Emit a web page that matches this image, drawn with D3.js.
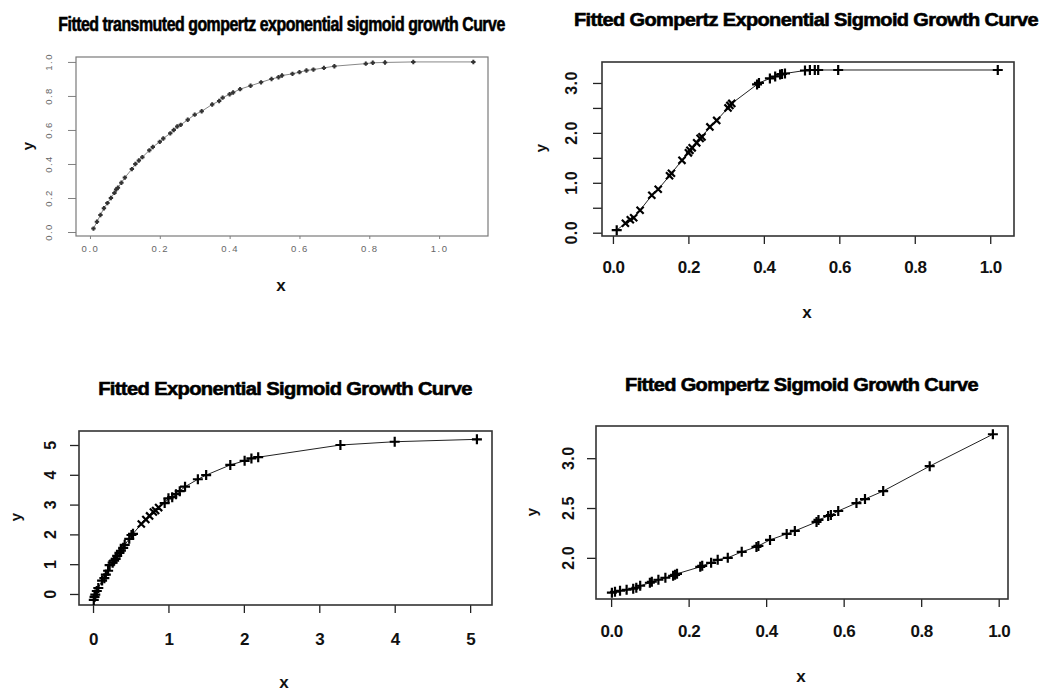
<!DOCTYPE html>
<html><head><meta charset="utf-8">
<script src="https://cdn.jsdelivr.net/npm/d3@7"></script>
<style>
html,body{margin:0;padding:0;background:#fff;}
svg{display:block;}
</style></head>
<body>
<script>
// ---------- DATA ----------
const titles = [
  "Fitted transmuted gompertz exponential sigmoid growth Curve",
  "Fitted Gompertz Exponential Sigmoid Growth Curve",
  "Fitted Exponential Sigmoid Growth Curve",
  "Fitted Gompertz Sigmoid Growth Curve"
];
// Panel 1: transmuted gompertz exponential
const tgeX = [0.01,0.02,0.03,0.04,0.05,0.06,0.07,0.075,0.08,0.09,0.10,0.12,0.13,0.14,0.15,0.17,0.18,0.20,0.21,0.23,0.24,0.25,0.26,0.28,0.30,0.32,0.35,0.37,0.38,0.40,0.41,0.43,0.46,0.49,0.52,0.54,0.55,0.58,0.60,0.62,0.64,0.67,0.70,0.79,0.81,0.845,0.926,1.098];
const tgeY = [0.02,0.06,0.10,0.14,0.17,0.20,0.23,0.25,0.26,0.29,0.32,0.37,0.40,0.42,0.44,0.48,0.50,0.53,0.55,0.58,0.60,0.62,0.63,0.66,0.69,0.71,0.75,0.77,0.79,0.81,0.82,0.84,0.86,0.88,0.90,0.91,0.92,0.93,0.94,0.95,0.955,0.965,0.975,0.99,0.995,0.997,1.0,1.0];
// Panel 2: gompertz exponential
const geX = [0.01,0.033,0.046,0.055,0.072,0.103,0.12,0.15,0.155,0.183,0.20,0.204,0.21,0.222,0.231,0.236,0.257,0.275,0.305,0.31,0.315,0.382,0.387,0.416,0.43,0.443,0.448,0.456,0.509,0.522,0.535,0.544,0.597,1.02];
const geY = [0.05,0.19,0.26,0.30,0.45,0.75,0.87,1.14,1.19,1.45,1.60,1.65,1.70,1.80,1.89,1.92,2.12,2.25,2.50,2.55,2.59,2.97,3.00,3.09,3.13,3.17,3.18,3.19,3.25,3.26,3.26,3.26,3.26,3.26];
// Panel 3: exponential
const esX = [0.01,0.02,0.03,0.05,0.07,0.12,0.15,0.17,0.20,0.22,0.26,0.28,0.30,0.32,0.35,0.37,0.40,0.42,0.48,0.51,0.53,0.64,0.70,0.75,0.80,0.83,0.87,0.95,1.00,1.05,1.10,1.15,1.22,1.39,1.50,1.82,2.01,2.10,2.19,3.28,4.00,5.09];
const esY = [-0.2,-0.1,-0.02,0.1,0.2,0.45,0.53,0.65,0.78,0.97,1.05,1.12,1.18,1.28,1.38,1.45,1.55,1.65,1.85,1.98,2.02,2.35,2.5,2.62,2.75,2.8,2.9,3.05,3.21,3.25,3.35,3.45,3.6,3.85,3.99,4.33,4.47,4.55,4.59,5.0,5.11,5.19];
// Panel 4: gompertz
const gsX = [0.002,0.01,0.023,0.04,0.057,0.065,0.075,0.10,0.105,0.122,0.14,0.16,0.165,0.17,0.23,0.235,0.258,0.275,0.301,0.337,0.375,0.38,0.41,0.453,0.474,0.53,0.535,0.56,0.567,0.586,0.633,0.655,0.702,0.822,0.985];
const gsY = [1.65,1.66,1.67,1.68,1.69,1.70,1.72,1.75,1.76,1.78,1.80,1.82,1.83,1.84,1.91,1.92,1.95,1.98,2.00,2.06,2.11,2.12,2.18,2.24,2.27,2.36,2.38,2.42,2.43,2.47,2.55,2.59,2.67,2.92,3.24];

// ticks
const p1XTicks = [0,0.2,0.4,0.6,0.8,1.0], p1XLabels = ["0.0","0.2","0.4","0.6","0.8","1.0"];
const p1YTicks = [0,0.2,0.4,0.6,0.8,1.0], p1YLabels = ["0.0","0.2","0.4","0.6","0.8","1.0"];
const p2XTicks = [0,0.2,0.4,0.6,0.8,1.0], p2XLabels = ["0.0","0.2","0.4","0.6","0.8","1.0"];
const p2YTicks = [0,0.5,1,1.5,2,2.5,3], p2YLabels = ["0.0","","1.0","","2.0","","3.0"];
const p3XTicks = [0,1,2,3,4,5], p3XLabels = ["0","1","2","3","4","5"];
const p3YTicks = [0,1,2,3,4,5], p3YLabels = ["0","1","2","3","4","5"];
const p4XTicks = [0,0.2,0.4,0.6,0.8,1.0], p4XLabels = ["0.0","0.2","0.4","0.6","0.8","1.0"];
const p4YTicks = [2.0,2.5,3.0], p4YLabels = ["2.0","2.5","3.0"];
const xLabel = "x", yLabel = "y";

// ---------- LAYOUT ----------
const W = 1050, H = 693;
const svg = d3.select("body").append("svg").attr("width", W).attr("height", H);
svg.append("rect").attr("width", W).attr("height", H).attr("fill", "#fff");

const titleFont = "'Liberation Sans','Arial',sans-serif";
const tickFont = "'Liberation Sans',Arial,sans-serif";

const panels = [
  {title: titles[0], xs: tgeX, ys: tgeY, box: [76,57,488,236], xd: [-0.04,1.14], yd: [-0.0235,1.029],
   xt: p1XTicks, xl: p1XLabels, yt: p1YTicks, yl: p1YLabels,
   tcx: 281.5, tby: 31, tw: 447, tfs: 20,
   faint: true, ylx: 48, xlabPos: [281, 291], ylabPos: [27, 146],
   cross: () => false},
  {title: titles[1], xs: geX, ys: geY, box: [602,62,1014,236], xd: [-0.029,1.063], yd: [-0.066,3.42],
   xt: p2XTicks, xl: p2XLabels, yt: p2YTicks, yl: p2YLabels,
   tcx: 806, tby: 26, tw: 464, tfs: 19,
   faint: false, ylx: 571, xoff: 17, xlabPos: [807, 318], ylabPos: [540, 148],
   cross: x => x > 0.02 && x < 0.37},
  {title: titles[2], xs: esX, ys: esY, box: [79,431,492,605], xd: [-0.186,5.29], yd: [-0.37,5.47],
   xt: p3XTicks, xl: p3XLabels, yt: p3YTicks, yl: p3YLabels,
   tcx: 285, tby: 395, tw: 374, tfs: 19,
   faint: false, ylx: 50, xoff: 20, xlabPos: [284, 688], ylabPos: [15, 517],
   cross: x => x > 0.6 && x < 0.9},
  {title: titles[3], xs: gsX, ys: gsY, box: [596,426,1008,599], xd: [-0.039,1.024], yd: [1.587,3.323],
   xt: p4XTicks, xl: p4XLabels, yt: p4YTicks, yl: p4YLabels,
   tcx: 801.5, tby: 391, tw: 353, tfs: 19,
   faint: false, ylx: 568, xoff: 18, xlabPos: [801, 682], ylabPos: [531, 512],
   cross: () => false}
];

panels.forEach(p => {
  const [L, T, R, B] = p.box;
  const x = d3.scaleLinear().domain(p.xd).range([L, R]);
  const y = d3.scaleLinear().domain(p.yd).range([B, T]);
  const g = svg.append("g");
  const lineCol = p.faint ? "#808080" : "#222";
  const labCol = p.faint ? "#666" : "#111";

  // title: natural glyphs, squeezed horizontally to the reference width
  const t = g.append("text").attr("x", 0).attr("y", 0)
    .attr("text-anchor", "middle")
    .attr("font-family", titleFont).attr("font-weight", "bold")
    .attr("font-size", p.tfs).attr("fill", "#000")
    .attr("stroke", "#000").attr("stroke-width", 0.6)
    .attr("letter-spacing", -0.6)
    .text(p.title);
  const natural = t.node().getComputedTextLength();
  t.attr("transform", `translate(${p.tcx},${p.tby}) scale(${p.tw / natural},1)`);

  // x axis
  const xa = d3.axisBottom(x).tickValues(p.xt)
    .tickFormat((d, i) => p.xl[i])
    .tickSizeInner(p.faint ? 3 : 8).tickSizeOuter(0)
    .tickPadding(p.faint ? 6 : p.xoff);
  const gx = g.append("g").attr("transform", `translate(0,${B})`).call(xa);
  gx.select(".domain").remove();
  gx.selectAll(".tick line").attr("stroke", lineCol).attr("stroke-width", p.faint ? 1 : 1.3);
  gx.selectAll(".tick text")
    .attr("fill", labCol)
    .attr("font-family", tickFont)
    .attr("font-weight", p.faint ? "normal" : "bold")
    .attr("font-size", p.faint ? 9.5 : 17)
    .attr("letter-spacing", p.faint ? 1.5 : -0.5);

  // y axis (ticks via d3, labels rotated)
  const ya = d3.axisLeft(y).tickValues(p.yt).tickFormat("")
    .tickSizeInner(p.faint ? 8 : 9).tickSizeOuter(0);
  const gy = g.append("g").attr("transform", `translate(${L},0)`).call(ya);
  gy.select(".domain").remove();
  gy.selectAll(".tick line").attr("stroke", lineCol).attr("stroke-width", p.faint ? 1 : 1.3);
  g.selectAll(null).data(p.yt).enter().append("text")
    .attr("transform", d => `translate(${p.ylx},${y(d)}) rotate(-90)`)
    .attr("text-anchor", "middle").attr("dominant-baseline", "central")
    .attr("fill", labCol)
    .attr("font-family", tickFont)
    .attr("font-weight", p.faint ? "normal" : "bold")
    .attr("font-size", p.faint ? 9.5 : 16)
    .attr("letter-spacing", p.faint ? 1.5 : 0.5)
    .text((d, i) => p.yl[i]);

  // box
  g.append("rect").attr("x", L).attr("y", T).attr("width", R - L).attr("height", B - T)
    .attr("fill", "none").attr("stroke", p.faint ? "#7a7a7a" : "#333")
    .attr("stroke-width", p.faint ? 1.2 : 1.6);

  // axis titles
  g.append("text").attr("x", p.xlabPos[0]).attr("y", p.xlabPos[1])
    .attr("text-anchor", "middle").attr("font-family", tickFont)
    .attr("font-weight", "bold").attr("font-size", 17).attr("fill", "#111")
    .text(xLabel);
  g.append("text").attr("transform", `translate(${p.ylabPos[0]},${p.ylabPos[1]}) rotate(-90)`)
    .attr("text-anchor", "middle").attr("dominant-baseline", "central")
    .attr("font-family", tickFont)
    .attr("font-weight", "bold").attr("font-size", 15).attr("fill", "#111")
    .text(yLabel);

  // data
  const pts = p.xs.map((v, i) => [v, p.ys[i]]);
  const line = d3.line().x(d => x(d[0])).y(d => y(d[1]));
  g.append("path").datum(pts).attr("d", line)
    .attr("fill", "none").attr("stroke", p.faint ? "#888" : "#222")
    .attr("stroke-width", 1);

  const s = p.faint ? 2.2 : 5;
  g.selectAll(null).data(pts).enter().append("path")
    .attr("transform", d => `translate(${x(d[0])},${y(d[1])})` + (p.cross(d[0]) ? " rotate(45)" : ""))
    .attr("d", `M${-s},0H${s}M0,${-s}V${s}`)
    .attr("stroke", p.faint ? "#333" : "#000")
    .attr("stroke-width", p.faint ? 2 : 2.2)
    .attr("fill", "none");
});
</script>
</body></html>
